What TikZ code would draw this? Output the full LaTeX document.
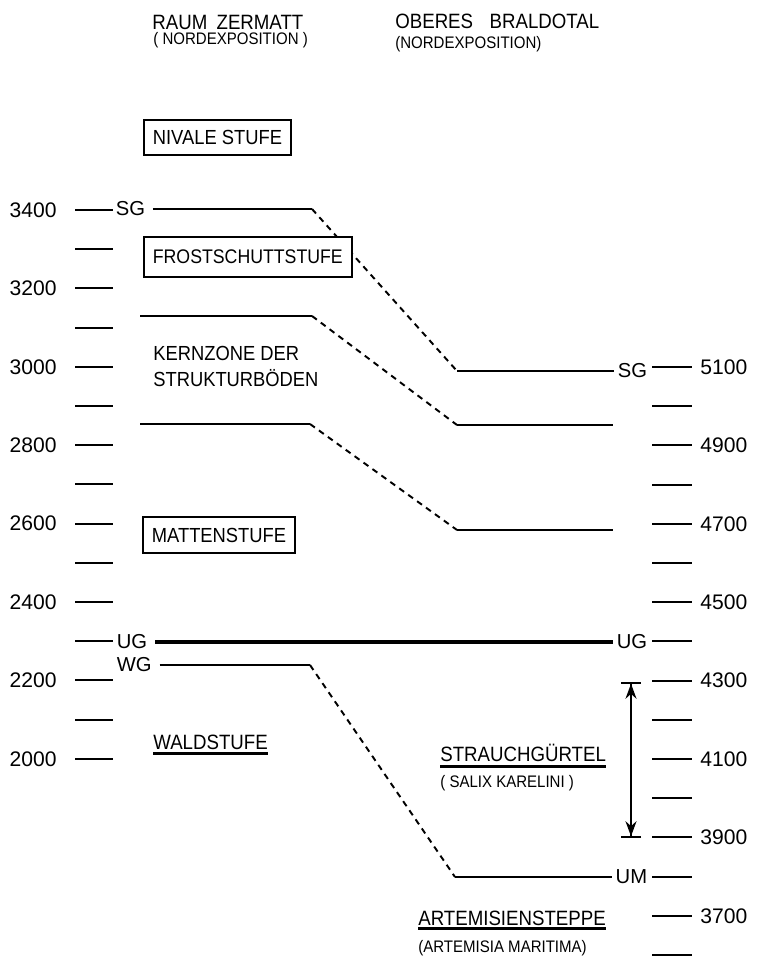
\documentclass[tikz,border=0pt]{standalone}
\usepackage{fontspec}
\setmainfont{Liberation Sans}
\newfontfamily\narrowsans{Liberation Sans}[FakeStretch=0.9]
\usetikzlibrary{arrows.meta,positioning}

\begin{document}
\begin{tikzpicture}[x=0.2mm, y=-0.2mm,
    head/.style={font=\narrowsans\fontsize{11.8}{14}\selectfont, inner sep=0pt, anchor=base west},
    latin/.style={font=\narrowsans\fontsize{9.5}{11}\selectfont, inner sep=0pt, anchor=base west},
    elev/.style={font=\fontsize{12}{14}\selectfont, inner sep=0pt},
    belt/.style={font=\fontsize{11.5}{13}\selectfont, inner xsep=2pt, inner ysep=1pt},
    zone/.style={draw, fill=white, line width=1pt, font=\narrowsans\fontsize{11.6}{14}\selectfont, inner xsep=1.8mm, anchor=west},
    plain/.style={font=\narrowsans\fontsize{11.6}{15.3}\selectfont, inner sep=0pt},
    boundary/.style={line width=1.1pt},
    slope/.style={line width=1.1pt, dash pattern=on 1.2mm off 1mm},
    treeline/.style={line width=2.8pt},
    scalebar/.style={line width=1.1pt},
    ruler/.style={line width=0.6mm},
    extent/.style={line width=1pt, {Bar[width=4mm]Stealth[length=3mm,width=2.2mm]}-{Stealth[length=3mm,width=2.2mm]Bar[width=4mm]}}
]
\useasboundingbox (0,0) rectangle (758,957);

% headings
\node[head] (zermatt) at (152,30) {RAUM\hspace{0.45em}ZERMATT};
\node[latin] (zermattExp) at (153,45) {( NORDEXPOSITION )};
\node[head] (braldo) at (395,29) {OBERES\hspace{0.8em}BRALDOTAL};
\node[latin] (braldoExp) at (395,49) {(NORDEXPOSITION)};

% elevation scales
\foreach \k in {0,...,14}
  \draw[scalebar] (75,{210+39.2*\k}) -- (113,{210+39.2*\k});
\foreach \h [count=\i from 0] in {3400,3200,...,2000}
  \node[elev, anchor=east] (zm\h) at (57,{210+78.4*\i}) {\h};
\foreach \k in {0,...,15}
  \draw[scalebar] (652,{367+39.2*\k}) -- (692,{367+39.2*\k});
\foreach \h [count=\i from 0] in {5100,4900,...,3700}
  \node[elev, anchor=west] (bd\h) at (700,{367+78.4*\i}) {\h};

% limits
\node[belt, anchor=west] (sgL) at (112,209) {SG};
\node[belt, anchor=west] (ugL) at (113,642) {UG};
\node[belt, anchor=west] (wgL) at (113,665) {WG};
\node[belt, anchor=east] (sgR) at (651,371) {SG};
\node[belt, anchor=east] (ugR) at (651,642) {UG};
\node[belt, anchor=east] (umR) at (651,877) {UM};

\coordinate (sgBend) at (312,209);
\coordinate (sgKnee) at (457,371);
\draw[boundary, shorten <=0.8mm] (sgL.east) -- (sgBend);
\draw[slope] (sgBend) -- (sgKnee);
\draw[boundary] (sgKnee) -- (sgR.west);

\coordinate (kernTopL) at (140,316);
\coordinate (kernTopBend) at (312,316);
\coordinate (kernTopKnee) at (457,425);
\coordinate (kernTopR) at (613,425);
\draw[boundary] (kernTopL) -- (kernTopBend);
\draw[slope] (kernTopBend) -- (kernTopKnee);
\draw[boundary] (kernTopKnee) -- (kernTopR);

\coordinate (kernBotL) at (140,424);
\coordinate (kernBotBend) at (310,424);
\coordinate (kernBotKnee) at (457,530);
\coordinate (kernBotR) at (613,530);
\draw[boundary] (kernBotL) -- (kernBotBend);
\draw[slope] (kernBotBend) -- (kernBotKnee);
\draw[boundary] (kernBotKnee) -- (kernBotR);

\draw[treeline, shorten <=0.8mm] (ugL.east) -- (ugR.west);

\coordinate (wgBend) at (310,665);
\coordinate (wgKnee) at (455,877);
\draw[boundary, shorten <=0.8mm] (wgL.east) -- (wgBend);
\draw[slope] (wgBend) -- (wgKnee);
\draw[boundary] (wgKnee) -- (umR.west);

% belts
\node[zone, minimum height=7mm] (nival) at (143,137.5) {NIVALE STUFE};
\node[zone, minimum height=8mm, font=\narrowsans\fontsize{11.2}{14}\selectfont] (frost) at (143,257) {FROSTSCHUTTSTUFE};
\node[plain, anchor=west, align=left] (kern) at (153,366.5) {KERNZONE DER\\STRUKTURBÖDEN};
\node[zone, minimum height=7.2mm] (matten) at (142,535) {MATTENSTUFE};

\node[head] (wald) at (153,749) {WALDSTUFE};
\draw[ruler] ([yshift=-0.8mm]wald.base west) -- ([yshift=-0.8mm]wald.base east);

\node[head] (strauch) at (440,761) {STRAUCHGÜRTEL};
\draw[ruler] ([yshift=-1mm]strauch.base west) -- ([yshift=-1mm]strauch.base east);
\node[latin] (salix) at (440,787) {( SALIX KARELINI )};

\node[head] (steppe) at (418,925) {ARTEMISIENSTEPPE};
\draw[ruler] ([yshift=-0.6mm]steppe.base west) -- ([yshift=-0.6mm]steppe.base east);
\node[latin] (artemisia) at (418,952) {(ARTEMISIA MARITIMA)};

% shrub belt extent
\coordinate (shrubTop) at (631,682);
\coordinate (shrubBase) at (631,838);
\draw[extent] (shrubTop) -- (shrubBase);
\end{tikzpicture}
\end{document}
